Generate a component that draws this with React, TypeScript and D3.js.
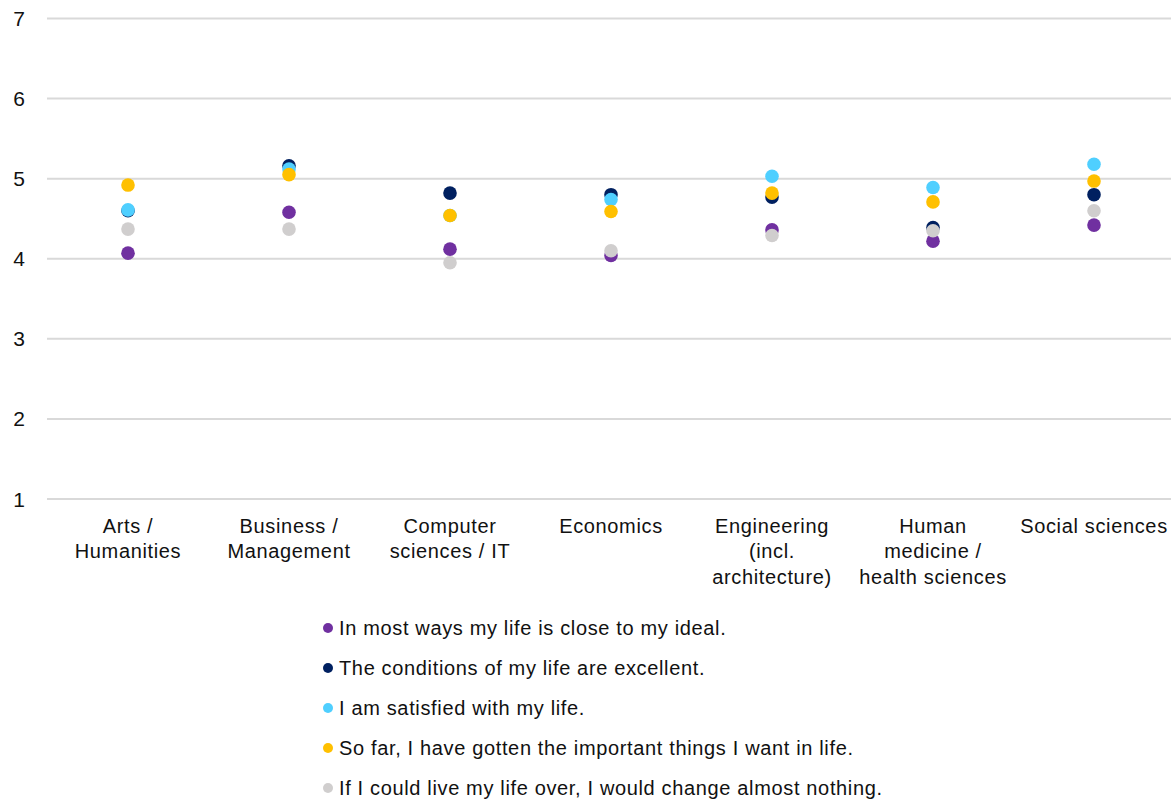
import React, { useEffect, useRef } from "react";
import * as d3 from "d3";

const categories = [
  "Arts / Humanities",
  "Business / Management",
  "Computer sciences / IT",
  "Economics",
  "Engineering (incl. architecture)",
  "Human medicine / health sciences",
  "Social sciences",
];

// label lines as wrapped in the original
const categoryLines = [
  ["Arts /", "Humanities"],
  ["Business /", "Management"],
  ["Computer", "sciences / IT"],
  ["Economics"],
  ["Engineering", "(incl.", "architecture)"],
  ["Human", "medicine /", "health sciences"],
  ["Social sciences"],
];

const seriesNames = [
  "In most ways my life is close to my ideal.",
  "The conditions of my life are excellent.",
  "I am satisfied with my life.",
  "So far, I have gotten the important things I want in life.",
  "If I could live my life over, I would change almost nothing.",
];

const seriesColors = ["#7030A0", "#002060", "#4FCFFF", "#FFC000", "#D0CECE"];

const idealValues = [4.07, 4.58, 4.12, 4.04, 4.36, 4.22, 4.42];
const conditionsValues = [4.6, 5.16, 4.82, 4.8, 4.77, 4.39, 4.8];
const satisfiedValues = [4.61, 5.12, 4.54, 4.74, 5.03, 4.89, 5.18];
const importantValues = [4.92, 5.05, 4.54, 4.59, 4.82, 4.71, 4.97];
const changeValues = [4.37, 4.37, 3.95, 4.1, 4.29, 4.35, 4.6];

const seriesValues = [idealValues, conditionsValues, satisfiedValues, importantValues, changeValues];

const yTicks = [1, 2, 3, 4, 5, 6, 7];

const W = 1171;
const H = 803;

const App: React.FC = () => {
  const ref = useRef<SVGSVGElement | null>(null);

  useEffect(() => {
    if (!ref.current) return;
    const svg = d3.select(ref.current);
    svg.selectAll("*").remove();

    const font = "'Liberation Sans', Arial, Helvetica, sans-serif";
    const ls = 0.65;

    const x = d3.scaleBand().domain(categories).range([47.5, 1174.5]);
    const y = d3.scaleLinear().domain([1, 7]).range([499, 18.5]);

    // gridlines
    svg
      .append("g")
      .selectAll("line")
      .data(yTicks)
      .enter()
      .append("line")
      .attr("x1", 47)
      .attr("x2", W)
      .attr("y1", (d) => y(d))
      .attr("y2", (d) => y(d))
      .attr("stroke", "#D9D9D9")
      .attr("stroke-width", 2);

    // y labels
    svg
      .append("g")
      .selectAll("text")
      .data(yTicks)
      .enter()
      .append("text")
      .attr("x", 25)
      .attr("y", (d) => y(d) + 7.5)
      .attr("text-anchor", "end")
      .attr("font-family", font)
      .attr("font-size", 21)
      .attr("fill", "#111")
      .text((d) => d);

    // category labels
    const cat = svg
      .append("g")
      .selectAll("text")
      .data(categories)
      .enter()
      .append("text")
      .attr("text-anchor", "middle")
      .attr("font-family", font)
      .attr("font-size", 20)
      .attr("letter-spacing", ls)
      .attr("fill", "#111");
    cat.each(function (d, i) {
      const t = d3.select(this);
      categoryLines[i].forEach((line, j) => {
        t.append("tspan")
          .attr("x", (x(d) as number) + x.bandwidth() / 2)
          .attr("y", 532.5 + j * 25.5)
          .text(line);
      });
    });

    // dots
    seriesValues.forEach((vals, s) => {
      svg
        .append("g")
        .selectAll("circle")
        .data(vals)
        .enter()
        .append("circle")
        .attr("cx", (d, i) => (x(categories[i]) as number) + x.bandwidth() / 2)
        .attr("cy", (d) => y(d))
        .attr("r", 6.8)
        .attr("fill", seriesColors[s]);
    });

    // legend
    const leg = svg
      .append("g")
      .selectAll("g")
      .data(seriesNames)
      .enter()
      .append("g")
      .attr("transform", (d, i) => `translate(328, ${628 + i * 40})`);
    leg
      .append("circle")
      .attr("r", 5)
      .attr("fill", (d, i) => seriesColors[i]);
    leg
      .append("text")
      .attr("x", 11)
      .attr("y", 7)
      .attr("font-family", font)
      .attr("font-size", 20)
      .attr("letter-spacing", ls)
      .attr("fill", "#111")
      .text((d) => d);
  }, []);

  return (
    <svg
      ref={ref}
      width={W}
      height={H}
      style={{ position: "absolute", left: 0, top: 0, background: "#fff" }}
    />
  );
};

export default App;
